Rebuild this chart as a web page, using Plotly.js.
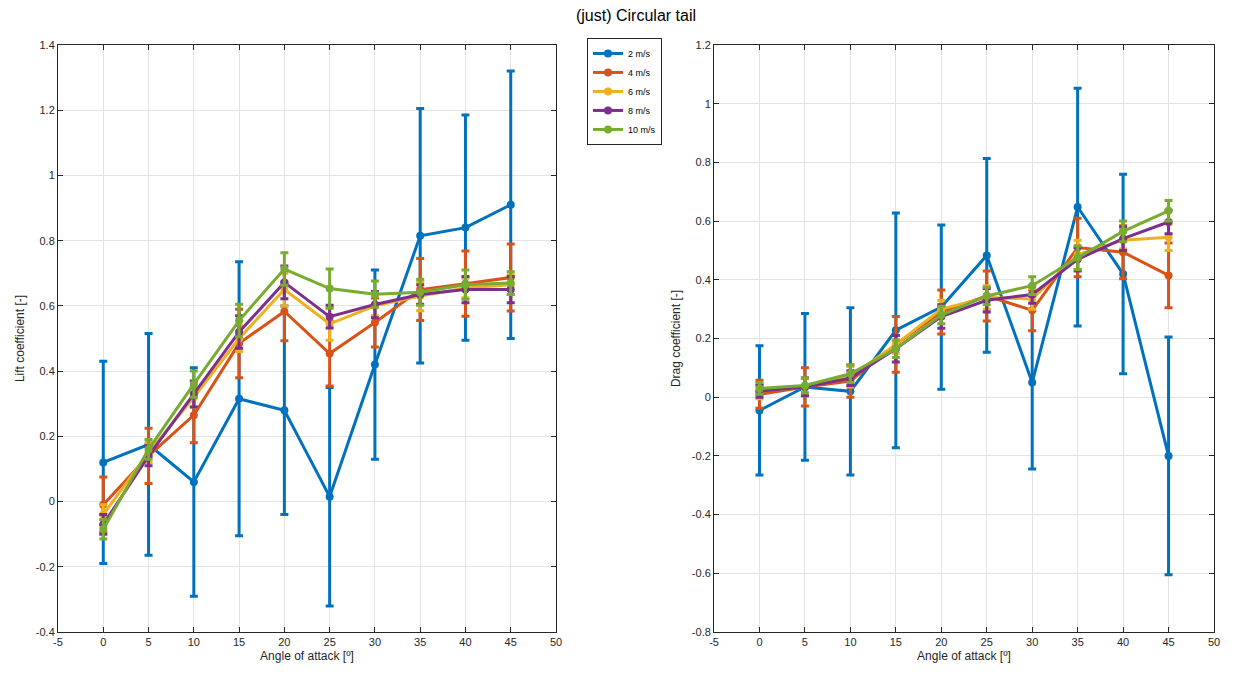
<!DOCTYPE html>
<html><head><meta charset="utf-8">
<script src="https://cdn.plot.ly/plotly-3.0.1.min.js"></script>
<style>html,body{margin:0;padding:0;background:#fff}#chart{width:1237px;height:675px}</style>
</head><body><div id="chart"></div>
<script>
const angles = [0,5,10,15,20,25,30,35,40,45];
const speeds = ['2 m/s','4 m/s','6 m/s','8 m/s','10 m/s'];
const colors = ['#0072BD','#D95319','#EDB120','#7E2F8E','#77AC30'];

// Lift coefficient means and errors
const lift2  = [0.12,0.175,0.06,0.315,0.28,0.015,0.42,0.815,0.84,0.91];
const lift2e = [0.31,0.34,0.35,0.42,0.32,0.335,0.29,0.39,0.345,0.41];
const lift4  = [-0.01,0.14,0.265,0.485,0.583,0.454,0.549,0.65,0.668,0.687];
const lift4e = [0.085,0.085,0.085,0.105,0.09,0.1,0.075,0.095,0.1,0.103];
const lift6  = [-0.04,0.15,0.32,0.5,0.65,0.545,0.6,0.63,0.655,0.665];
const lift6e = [0.03,0.03,0.03,0.04,0.05,0.05,0.03,0.045,0.03,0.03];
const lift8  = [-0.07,0.14,0.33,0.52,0.672,0.567,0.604,0.635,0.65,0.65];
const lift8e = [0.03,0.03,0.04,0.05,0.05,0.035,0.04,0.03,0.04,0.04];
const lift10 = [-0.085,0.16,0.36,0.555,0.713,0.653,0.636,0.642,0.665,0.67];
const lift10e= [0.03,0.03,0.04,0.05,0.05,0.06,0.04,0.04,0.045,0.035];

// Drag coefficient means and errors
const drag2  = [-0.045,0.035,0.02,0.228,0.307,0.483,0.05,0.648,0.42,-0.2];
const drag2e = [0.22,0.25,0.285,0.4,0.28,0.33,0.295,0.405,0.34,0.405];
const drag4  = [0.01,0.035,0.055,0.18,0.29,0.345,0.296,0.51,0.494,0.415];
const drag4e = [0.048,0.065,0.055,0.095,0.075,0.085,0.07,0.1,0.09,0.11];
const drag6  = [0.02,0.035,0.07,0.18,0.3,0.34,0.335,0.485,0.535,0.545];
const drag6e = [0.025,0.03,0.035,0.03,0.03,0.04,0.035,0.05,0.03,0.045];
const drag8  = [0.02,0.035,0.065,0.165,0.275,0.33,0.35,0.47,0.54,0.597];
const drag8e = [0.02,0.03,0.025,0.045,0.04,0.04,0.03,0.04,0.04,0.04];
const drag10 = [0.03,0.04,0.08,0.165,0.28,0.345,0.38,0.475,0.565,0.635];
const drag10e= [0.02,0.025,0.03,0.03,0.03,0.03,0.03,0.04,0.035,0.035];

const xTicks = [-5,0,5,10,15,20,25,30,35,40,45,50];
const xTickText = ['-5','0','5','10','15','20','25','30','35','40','45','50'];
const liftTicks = [-0.4,-0.2,0,0.2,0.4,0.6,0.8,1,1.2,1.4];
const liftTickText = ['-0.4','-0.2','0','0.2','0.4','0.6','0.8','1','1.2','1.4'];
const dragTicks = [-0.8,-0.6,-0.4,-0.2,0,0.2,0.4,0.6,0.8,1,1.2];
const dragTickText = ['-0.8','-0.6','-0.4','-0.2','0','0.2','0.4','0.6','0.8','1','1.2'];

const liftSets = [[lift2,lift2e],[lift4,lift4e],[lift6,lift6e],[lift8,lift8e],[lift10,lift10e]];
const dragSets = [[drag2,drag2e],[drag4,drag4e],[drag6,drag6e],[drag8,drag8e],[drag10,drag10e]];

const traces = [];
function add(sets, xa, ya, show){
  sets.forEach((s,i)=>{
    traces.push({
      x: angles, y: s[0], xaxis: xa, yaxis: ya,
      type:'scatter', mode:'lines+markers', name: speeds[i], showlegend: show,
      line:{color:colors[i], width:3},
      marker:{color:colors[i], size:8, symbol:'circle'},
      error_y:{type:'data', array:s[1], visible:true, color:colors[i], thickness:3, width:4}
    });
  });
}
add(liftSets,'x','y',true);
add(dragSets,'x2','y2',false);

const FONT = 'Liberation Sans, Arial, sans-serif';
const axCommon = {
  showline:true, mirror:'ticks', linecolor:'#262626', linewidth:1,
  ticks:'inside', ticklen:5, tickcolor:'#262626',
  showgrid:true, gridcolor:'#e3e3e3', zeroline:false,
  tickfont:{family:FONT, size:11, color:'#262626'}
};
const titleFont = {family:FONT, size:12, color:'#262626'};

const layout = {
  width:1237, height:675,
  margin:{l:58, r:23, t:45, b:43},
  paper_bgcolor:'#fff', plot_bgcolor:'#fff',
  title:{text:'(just) Circular tail', x:0.5, xref:'paper', y:0.985, yref:'container',
         font:{family:FONT, size:16, color:'#000'}},
  xaxis: Object.assign({}, axCommon, {domain:[0,0.4308], range:[-5,50], tickvals:xTicks, ticktext:xTickText, anchor:'y',
     title:{text:'Angle of attack [º]', font:titleFont, standoff:4}}),
  yaxis: Object.assign({}, axCommon, {domain:[0,1], range:[-0.4,1.4], tickvals:liftTicks, ticktext:liftTickText, anchor:'x',
     title:{text:'Lift coefficient [-]', font:titleFont, standoff:8}}),
  xaxis2: Object.assign({}, axCommon, {domain:[0.5675,1], range:[-5,50], tickvals:xTicks, ticktext:xTickText, anchor:'y2',
     title:{text:'Angle of attack [º]', font:titleFont, standoff:4}}),
  yaxis2: Object.assign({}, axCommon, {domain:[0,1], range:[-0.8,1.2], tickvals:dragTicks, ticktext:dragTickText, anchor:'x2',
     title:{text:'Drag coefficient [-]', font:titleFont, standoff:8}}),
  legend:{x:0.4576, y:1.012, xanchor:'left', yanchor:'top', bgcolor:'#fff',
          bordercolor:'#262626', borderwidth:1, tracegroupgap:0, itemwidth:30,
          font:{family:FONT, size:9, color:'#000'}},
  showlegend:true
};
Plotly.newPlot('chart', traces, layout, {displayModeBar:false, staticPlot:true});
</script></body></html>
